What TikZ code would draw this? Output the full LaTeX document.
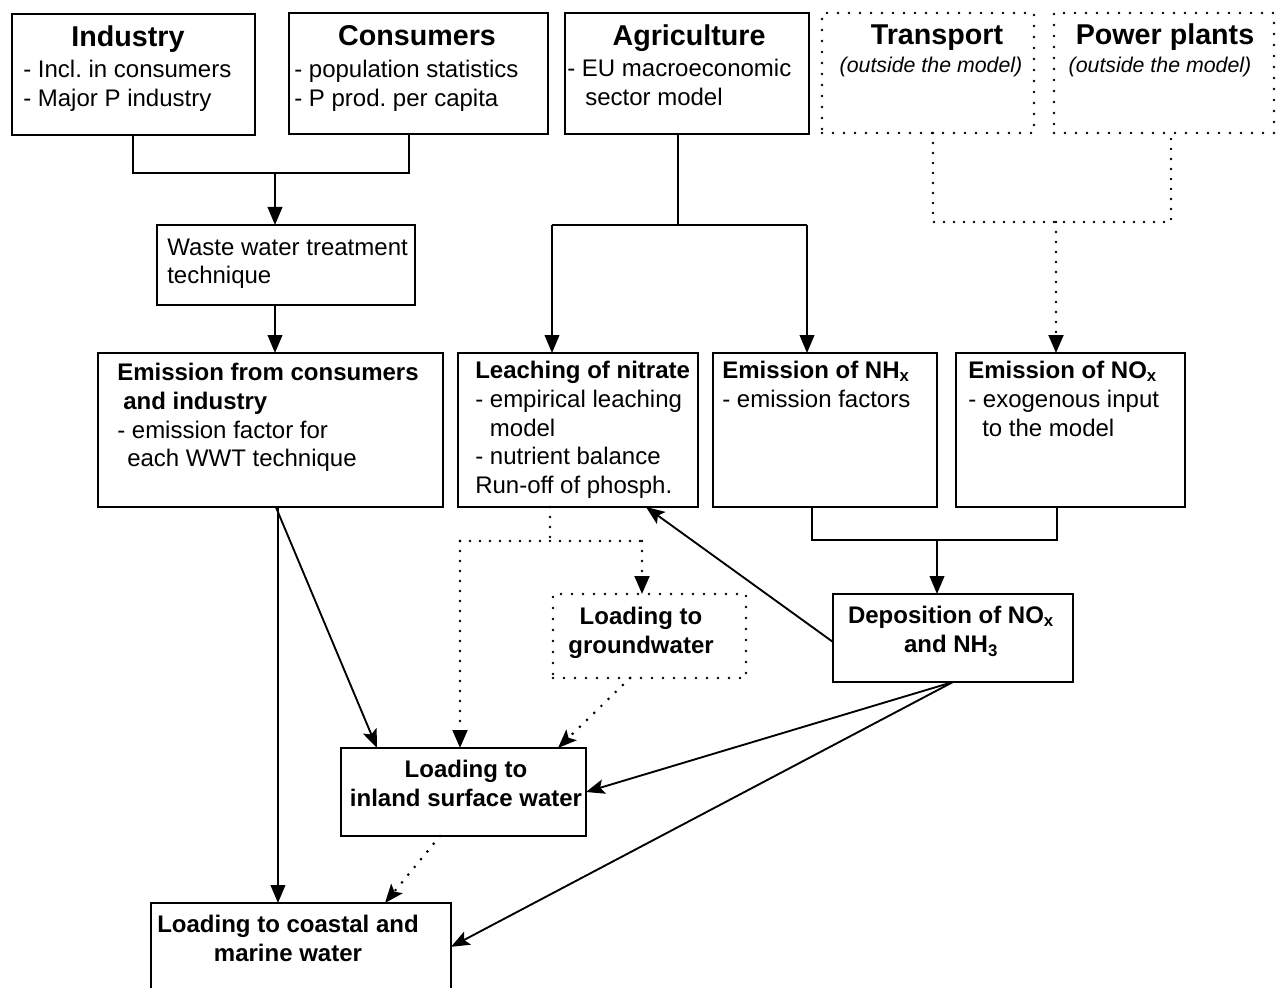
\documentclass[tikz,border=0pt]{standalone}
\usepackage{fontspec}
\setmainfont{Liberation Sans}
\usetikzlibrary{arrows.meta,fit}

\newcommand\bodysize{\fontsize{18pt}{21.6pt}\selectfont}
\newcommand\headsize{\fontsize{21.5pt}{25pt}\selectfont}
\newcommand\asidesize{\fontsize{16pt}{19pt}\selectfont}

\tikzset{
  boxed/.style={draw, line width=1.7pt, inner sep=0pt, outer sep=0pt},
  dotboxed/.style={draw, line width=2.2pt, line cap=round,
    dash pattern=on 0pt off 8.25pt, inner sep=0pt, outer sep=0pt},
  frame/.style={line width=1.7pt},
  link/.style={line width=1.4pt},
  dotline/.style={line width=2.2pt, line cap=round, dash pattern=on 0pt off 7.5pt},
  tri/.style={-{Triangle[length=13.5pt,width=11pt]}},
  stl/.style={-{Stealth[length=14pt,width=11pt,inset=3pt]}},
  head/.style={font=\headsize\bfseries, anchor=base, inner sep=0pt},
  aside/.style={font=\asidesize\itshape, anchor=base, inner sep=0pt},
  txt/.style={font=\bodysize, align=left, anchor=north west, inner sep=0pt},
  txtc/.style={font=\bodysize\bfseries, align=center, anchor=north, inner sep=0pt},
}

\begin{document}
\begin{tikzpicture}[x=0.75pt, y=-0.75pt]
\useasboundingbox (0,0) rectangle (1278,988);
\fill[white] (0,0) rectangle (1278,988);

% ---------- sources ----------
\node[boxed, fit={(12,14) (255,135)}] (industry) {};
\node[head] (industry-head) at (128,47) {Industry};
\node[txt] (industry-text) at (23,57) {\strut- Incl.\ in consumers\\- Major P industry};

\node[boxed, fit={(289,13) (548,134)}] (consumers) {};
\node[head] (consumers-head) at (417,46) {Consumers};
\node[txt] (consumers-text) at (294,57) {\strut- population statistics\\- P prod.\ per capita};

\node[boxed, fit={(565,13) (809,134)}] (agri) {};
\node[head] (agri-head) at (689,46) {Agriculture};
\node[txt] (agri-text) at (567,56) {\strut- EU macroeconomic\\\hspace*{13.5pt}sector model};

\node[dotboxed, fit={(822,13) (1034,133)}] (transport) {};
\node[head] (transport-head) at (937,45) {Transport};
\node[aside] (transport-note) at (931,73) {(outside the model)};

\node[dotboxed, fit={(1054,13) (1274,133)}] (power) {};
\node[head] (power-head) at (1165,45) {Power plants};
\node[aside] (power-note) at (1160,73) {(outside the model)};

% ---------- treatment and emissions ----------
\node[boxed, fit={(157,225) (415,305)}] (wwt) {};
\node[txt, font=\fontsize{18pt}{21pt}\selectfont] (wwt-text) at (167,235.4)
  {\strut Waste water treatment\\technique};

\node[boxed, fit={(98,353) (443,507)}] (emis) {};
\node[txt] (emis-text) at (117,360)
  {\strut\textbf{Emission from consumers}\\\textbf{\hspace*{4.5pt}and industry}\\- emission factor for\\\hspace*{7.5pt}each WWT technique};

\node[boxed, fit={(458,353) (698,507)}] (leach) {};
\node[txt] (leach-text) at (475,358)
  {\strut\textbf{Leaching of nitrate}\\- empirical leaching\\\hspace*{11pt}model\\- nutrient balance\\Run-off of phosph.};

\node[boxed, fit={(713,353) (937,507)}] (nhx) {};
\node[txt] (nhx-text) at (722,358)
  {\strut\textbf{Emission of NH\textsubscript{x}}\\- emission factors};

\node[boxed, fit={(956,353) (1185,507)}] (nox) {};
\node[txt] (nox-text) at (968,358)
  {\strut\textbf{Emission of NO\textsubscript{x}}\\- exogenous input\\\hspace*{10.5pt}to the model};

\node[boxed, fit={(833,594) (1073,682)}] (depo) {};
\node[txtc] (depo-text) at (951,603)
  {\strut Deposition of NO\textsubscript{x}\\and NH\textsubscript{3}};

% ---------- loadings ----------
\node[dotboxed, fit={(553,594) (746,678)}] (ground) {};
\node[txtc] (ground-text) at (641,604) {\strut Loading to\\groundwater};

\node[boxed, fit={(341,748) (586,836)}] (inland) {};
\node[txtc] (inland-text) at (466,757) {\strut Loading to\\inland surface water};

\node[inner sep=0pt, outer sep=0pt, fit={(151,903) (451,988)}] (coastal) {};
\draw[frame] (coastal.south west) -- (coastal.north west) -- (coastal.north east) -- (coastal.south east);
\node[txtc] (coastal-text) at (288,912) {\strut Loading to coastal and\\marine water};

% ---------- industry and consumers to treatment ----------
\coordinate (jI) at (133,173);
\coordinate (jC) at (409,173);
\coordinate (jA) at (275,173);
\draw[link] (jI |- industry.south) -- (jI) -- (jC) -- (jC |- consumers.south);
\draw[link,tri] (jA) -- (jA |- wwt.north);
\coordinate (jW) at (275,320);
\draw[link,tri] (jW |- wwt.south) -- (jW |- emis.north);

% ---------- agriculture split ----------
\coordinate (jG) at (678,225);
\coordinate (jL) at (552,225);
\coordinate (jN) at (807,225);
\draw[link] (jG |- agri.south) -- (jG);
\draw[link] (jL) -- (jN);
\draw[link,tri] (jL) -- (jL |- leach.north);
\draw[link,tri] (jN) -- (jN |- nhx.north);

% ---------- transport and power plants ----------
\coordinate (jT) at (933,222);
\coordinate (jP) at (1171,222);
\coordinate (jX) at (1056,222);
\draw[dotline] (jT |- transport.south) -- (jT) -- (jP) -- (jP |- power.south);
\draw[dotline,tri] (jX) -- (jX |- nox.north);

% ---------- NHx and NOx to deposition ----------
\coordinate (jH) at (812,540);
\coordinate (jO) at (1057,540);
\coordinate (jD) at (937,540);
\draw[link] (jH |- nhx.south) -- (jH) -- (jO) -- (jO |- nox.south);
\draw[link,tri] (jD) -- (jD |- depo.north);

% ---------- leaching split ----------
\coordinate (jR) at (550,541);
\coordinate (jS) at (460,541);
\coordinate (jU) at (642,541);
\draw[dotline] (jR |- leach.south) -- (jR);
\draw[dotline] (jS) -- (jU);
\draw[dotline,tri] (jU) -- (jU |- ground.north);
\draw[dotline,tri] (jS) -- (jS |- inland.north);

% ---------- flows to the waters ----------
\draw[link,stl] ([yshift=-3pt]depo.west) -- ([xshift=-39pt]leach.south east);
\draw[dotline,stl] ([xshift=-14.6pt]ground.south) -- ([xshift=-21pt]inland.north east);
\draw[link,stl] ([xshift=4pt]emis.south) -- ([xshift=27pt]inland.north west);
\coordinate (eV) at ([xshift=5.6pt]emis.south);
\draw[link,tri] (eV) -- (eV |- coastal.north);
\draw[link,stl] (depo.south) -- (inland.east);
\draw[link,stl] (depo.south) -- ([yshift=-1pt]coastal.east);
\draw[dotline,stl] ([xshift=-17.6pt]inland.south) -- ([xshift=63pt]coastal.north);
\end{tikzpicture}
\end{document}
